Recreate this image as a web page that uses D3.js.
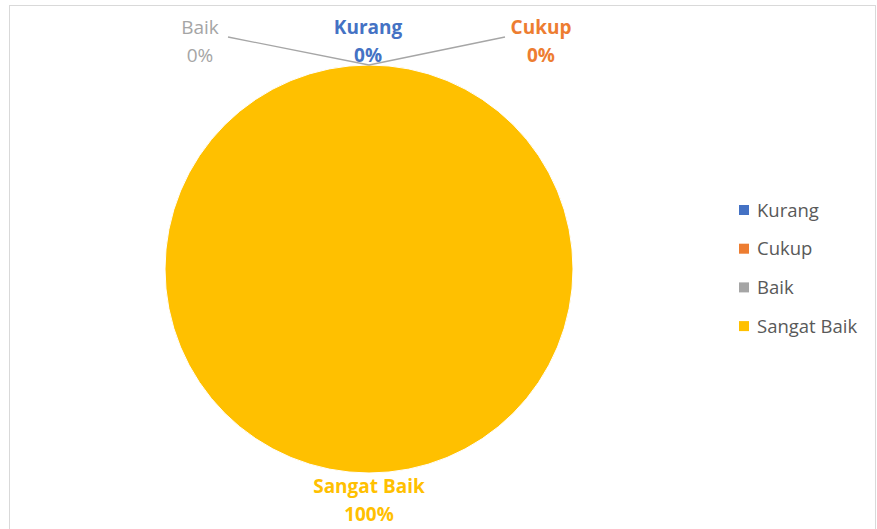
<!DOCTYPE html>
<html>
<head>
<meta charset="utf-8">
<script src="https://cdn.jsdelivr.net/npm/d3@7/dist/d3.min.js"></script>
<style>
  html, body { margin: 0; padding: 0; background: #ffffff; }
  svg { display: block; }
</style>
</head>
<body>
<script>
// Survey result categories and their share
const categories = ["Kurang", "Cukup", "Baik", "Sangat Baik"];
const values = [0, 0, 0, 100];
const colors = ["#4472C4", "#ED7D31", "#A5A5A5", "#FFC000"];

const W = 877, H = 529;
const cx = 369, cy = 269, R = 204;
const font = "'Open Sans', 'Noto Sans', sans-serif";

const svg = d3.select("body").append("svg")
  .attr("width", W).attr("height", H);

// chart frame
svg.append("rect")
  .attr("x", 9.5).attr("y", 5.5)
  .attr("width", 866).attr("height", 540)
  .attr("fill", "#ffffff")
  .attr("stroke", "#d9d9d9").attr("stroke-width", 1);

const data = categories.map((c, i) => ({ name: c, value: values[i], color: colors[i] }));

const pie = d3.pie().sort(null).value(d => d.value);
const arcs = pie(data);
const arc = d3.arc().innerRadius(0).outerRadius(R);

const g = svg.append("g").attr("transform", `translate(${cx},${cy})`);

g.selectAll("path.slice")
  .data(arcs)
  .join("path")
  .attr("class", "slice")
  .attr("d", arc)
  .attr("fill", d => d.data.color)
  .attr("stroke", "#ffffff")
  .attr("stroke-width", 1);

// data labels: name + percentage, placed outside the pie
const total = d3.sum(values);
const pct = v => Math.round(v / total * 100) + "%";

// label anchors (relative to the pie centre) for each category
const labelPos = {
  "Kurang":      { dx: -1,   dy: -235, bold: true,  leader: null },
  "Cukup":       { dx: 172,  dy: -235, bold: true,  leader: [136, -232] },
  "Baik":        { dx: -169, dy: -235, bold: false, leader: [-141, -232] },
  "Sangat Baik": { dx: 0,    dy: 224,  bold: true,  leader: null }
};

// leader lines for the zero-size slices, ending at the slice position on the rim
arcs.forEach(a => {
  const p = labelPos[a.data.name];
  if (!p.leader) return;
  const ang = (a.startAngle + a.endAngle) / 2;
  const rim = [Math.sin(ang) * R, -Math.cos(ang) * R];
  g.append("line")
    .attr("x1", p.leader[0]).attr("y1", p.leader[1])
    .attr("x2", rim[0]).attr("y2", rim[1])
    .attr("stroke", "#a6a6a6").attr("stroke-width", 1.3);
});

arcs.forEach(a => {
  const p = labelPos[a.data.name];
  const t = g.append("text")
    .attr("x", p.dx).attr("y", p.dy)
    .attr("text-anchor", "middle")
    .attr("font-family", font)
    .attr("font-size", 19)
    .attr("font-weight", p.bold ? 700 : 400)
    .attr("fill", a.data.color);
  t.append("tspan").attr("x", p.dx).attr("dy", 0).text(a.data.name);
  t.append("tspan").attr("x", p.dx).attr("dy", 28).text(pct(a.data.value));
});

// legend
const legend = svg.append("g").attr("transform", "translate(739,210)");
const rowH = 38.7;
const items = legend.selectAll("g.item")
  .data(data)
  .join("g")
  .attr("class", "item")
  .attr("transform", (d, i) => `translate(0,${i * rowH})`);
items.append("rect")
  .attr("x", 0).attr("y", -5)
  .attr("width", 10).attr("height", 10)
  .attr("fill", d => d.color);
items.append("text")
  .attr("x", 18).attr("y", 6.5)
  .attr("font-family", font)
  .attr("font-size", 18.5)
  .attr("fill", "#595959")
  .text(d => d.name);
</script>
</body>
</html>
